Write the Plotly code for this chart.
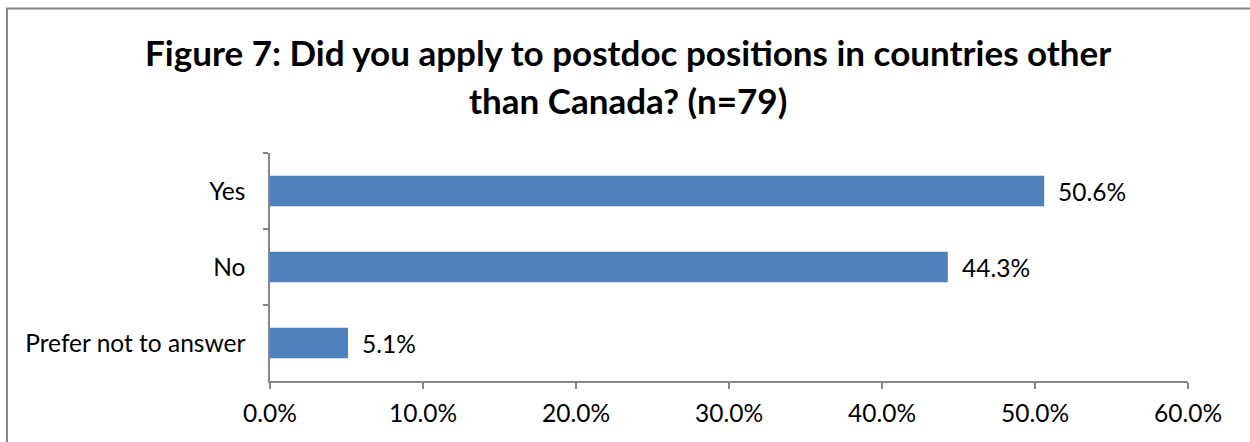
import plotly.graph_objects as go

categories = ["Yes", "No", "Prefer not to answer"]
values = [50.6, 44.3, 5.1]
tick_vals = [0, 10, 20, 30, 40, 50, 60]
tick_text = ["0.0%", "10.0%", "20.0%", "30.0%", "40.0%", "50.0%", "60.0%"]
title_lines = ["Figure 7: Did you apply to postdoc positions in countries other",
               "than Canada? (n=79)"]

FONT = "Lato"
AXIS_COLOR = "#868686"
TICK_SIZE = 24.5

fig = go.Figure()
fig.add_trace(go.Bar(
    y=categories, x=values, orientation="h",
    marker=dict(color="#4F81BD", line=dict(width=0)),
    width=0.4, hoverinfo="skip",
))

for c, v in zip(categories, values):
    fig.add_annotation(x=v, y=c, xref="x", yref="y", text=f"{v:.1f}%",
                       showarrow=False, xanchor="left", xshift=12,
                       font=dict(family=FONT, size=TICK_SIZE, color="#000000"))

L, R, T, B = 270, 62, 153, 61
W, H = 1250, 442
pw, ph = W - L - R, H - T - B

def px2paper_x(px):
    return (px - L) / pw

def px2paper_y(py):
    return (H - B - py) / ph

for line, ypx in zip(title_lines, [52, 100]):
    fig.add_annotation(x=px2paper_x(628), y=px2paper_y(ypx), xref="paper", yref="paper",
                       text=f"<b>{line}</b>", showarrow=False,
                       xanchor="center", yanchor="middle",
                       font=dict(family=FONT, size=35, color="#000000"))

fig.add_shape(type="rect", xref="paper", yref="paper",
              x0=px2paper_x(7), x1=px2paper_x(1320),
              y0=px2paper_y(480), y1=px2paper_y(8.5),
              line=dict(color="#878787", width=2), fillcolor="rgba(0,0,0,0)")

fig.update_xaxes(range=[0, 60], tickvals=tick_vals, ticktext=tick_text,
                 showgrid=False, zeroline=False, showline=True,
                 linecolor=AXIS_COLOR, linewidth=1.5,
                 ticks="outside", ticklen=6, tickcolor=AXIS_COLOR, tickwidth=1.5,
                 ticklabelstandoff=4,
                 tickfont=dict(family=FONT, size=TICK_SIZE, color="#000000"))
fig.update_yaxes(autorange=False, range=[2.5, -0.5],
                 categoryorder="array", categoryarray=categories,
                 showgrid=False, zeroline=False, showline=True,
                 linecolor=AXIS_COLOR, linewidth=1.5,
                 ticks="outside", ticklen=5, tickcolor=AXIS_COLOR, tickwidth=1.5,
                 tickson="boundaries", ticklabelstandoff=18,
                 tickfont=dict(family=FONT, size=TICK_SIZE, color="#000000"))

fig.update_layout(width=W, height=H, margin=dict(l=L, r=R, t=T, b=B),
                  plot_bgcolor="white", paper_bgcolor="white",
                  showlegend=False, bargap=0.6)

fig.write_html("out.html", config={"displayModeBar": False},
               post_script="document.body.style.margin='0';document.body.style.overflow='hidden';")
